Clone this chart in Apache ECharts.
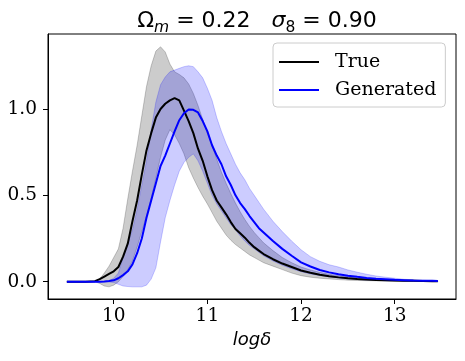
<!DOCTYPE html>
<html>
<head>
<meta charset="utf-8">
<script src="https://cdn.jsdelivr.net/npm/echarts@6/dist/echarts.min.js"></script>
<style>
html,body{margin:0;padding:0;background:#fff;}
#chart{width:465px;height:361px;}
</style>
</head>
<body>
<div id="chart"></div>
<script>
var xs = [9.5, 9.6, 9.7, 9.8, 9.85, 9.9, 9.95, 10.0, 10.05, 10.1, 10.15, 10.2, 10.25, 10.3, 10.35, 10.4, 10.45, 10.5, 10.55, 10.6, 10.65, 10.7, 10.75, 10.8, 10.85, 10.9, 10.95, 11.0, 11.05, 11.1, 11.15, 11.2, 11.25, 11.3, 11.35, 11.4, 11.45, 11.5, 11.55, 11.6, 11.7, 11.8, 11.9, 12.0, 12.1, 12.2, 12.3, 12.4, 12.5, 12.6, 12.7, 12.8, 12.9, 13.0, 13.1, 13.2, 13.3, 13.4, 13.46];

var trueMean = [0, 0, 0, 0.003, 0.015, 0.03, 0.045, 0.06, 0.085, 0.145, 0.22, 0.35, 0.47, 0.62, 0.76, 0.86, 0.95, 1.0, 1.03, 1.05, 1.063, 1.05, 0.99, 0.93, 0.86, 0.77, 0.70, 0.61, 0.53, 0.47, 0.43, 0.39, 0.345, 0.305, 0.28, 0.255, 0.225, 0.2, 0.18, 0.16, 0.13, 0.105, 0.085, 0.065, 0.052, 0.04, 0.032, 0.025, 0.02, 0.016, 0.013, 0.01, 0.008, 0.007, 0.006, 0.005, 0.004, 0.003, 0.003];
var trueLow = [0, 0, 0, 0, -0.01, -0.025, -0.03, -0.02, 0.0, 0.03, 0.07, 0.12, 0.2, 0.29, 0.38, 0.48, 0.6, 0.72, 0.82, 0.88, 0.85, 0.8, 0.74, 0.66, 0.6, 0.545, 0.495, 0.45, 0.40, 0.35, 0.31, 0.27, 0.24, 0.215, 0.195, 0.175, 0.155, 0.14, 0.125, 0.11, 0.09, 0.07, 0.05, 0.035, 0.026, 0.02, 0.016, 0.012, 0.009, 0.007, 0.006, 0.005, 0.004, 0.003, 0.003, 0.002, 0.002, 0.002, 0.002];
var trueHigh = [0, 0, 0, 0.003, 0.015, 0.05, 0.09, 0.14, 0.19, 0.31, 0.48, 0.64, 0.79, 0.96, 1.13, 1.25, 1.335, 1.36, 1.33, 1.26, 1.215, 1.2, 1.18, 1.145, 1.09, 1.02, 0.94, 0.86, 0.79, 0.71, 0.635, 0.57, 0.51, 0.455, 0.405, 0.36, 0.32, 0.285, 0.255, 0.225, 0.18, 0.14, 0.11, 0.085, 0.068, 0.054, 0.043, 0.035, 0.028, 0.022, 0.018, 0.014, 0.011, 0.009, 0.007, 0.006, 0.005, 0.004, 0.004];

var genMean = [0, 0, 0, 0, 0, 0.001, 0.004, 0.008, 0.02, 0.038, 0.06, 0.10, 0.165, 0.25, 0.37, 0.47, 0.57, 0.67, 0.73, 0.80, 0.87, 0.935, 0.975, 0.997, 0.995, 0.98, 0.93, 0.87, 0.79, 0.73, 0.68, 0.61, 0.56, 0.50, 0.455, 0.42, 0.38, 0.345, 0.31, 0.285, 0.235, 0.19, 0.15, 0.112, 0.088, 0.068, 0.054, 0.043, 0.035, 0.028, 0.022, 0.017, 0.014, 0.011, 0.009, 0.007, 0.006, 0.005, 0.004];
var genLow = [0, 0, 0, 0, 0, 0, -0.002, -0.005, -0.015, -0.025, -0.028, -0.03, -0.03, -0.03, -0.02, 0.015, 0.08, 0.23, 0.37, 0.47, 0.56, 0.64, 0.69, 0.72, 0.74, 0.70, 0.64, 0.57, 0.50, 0.45, 0.41, 0.37, 0.33, 0.30, 0.265, 0.235, 0.21, 0.19, 0.17, 0.15, 0.12, 0.095, 0.075, 0.058, 0.045, 0.036, 0.028, 0.022, 0.017, 0.013, 0.01, 0.008, 0.006, 0.005, 0.004, 0.003, 0.003, 0.002, 0.002];
var genHigh = [0, 0, 0, 0, 0, 0, 0.005, 0.02, 0.05, 0.14, 0.22, 0.30, 0.42, 0.56, 0.70, 0.88, 1.04, 1.14, 1.185, 1.215, 1.225, 1.235, 1.245, 1.25, 1.245, 1.215, 1.18, 1.12, 1.05, 0.95, 0.87, 0.80, 0.74, 0.68, 0.63, 0.59, 0.54, 0.50, 0.46, 0.42, 0.35, 0.29, 0.235, 0.185, 0.145, 0.118, 0.098, 0.085, 0.068, 0.055, 0.043, 0.033, 0.026, 0.02, 0.014, 0.011, 0.008, 0.006, 0.005];

var xTicks = [10, 11, 12, 13];
var yTicks = [0, 0.5, 1.0];
var seriesNames = ['True', 'Generated'];

function pairs(ys) { return xs.map(function (x, i) { return [x, ys[i]]; }); }

function band(name, low, high, fill) {
  return {
    type: 'custom',
    name: name,
    silent: true,
    z: 1,
    data: xs.map(function (x, i) { return [x, low[i], high[i]]; }),
    encode: { x: 0, y: [1, 2] },
    renderItem: function (params, api) {
      if (params.dataIndex !== 0) return null;
      var pts = [];
      for (var i = 0; i < xs.length; i++) pts.push(api.coord([xs[i], high[i]]));
      for (var j = xs.length - 1; j >= 0; j--) pts.push(api.coord([xs[j], low[j]]));
      return { type: 'polygon', shape: { points: pts }, style: { fill: fill, stroke: fill, lineWidth: 1 } };
    }
  };
}

var chart = echarts.init(document.getElementById('chart'), null, { renderer: 'canvas' });
chart.setOption({
  backgroundColor: '#ffffff',
  animation: false,
  title: {
    text: '{a|Ω}{s|m}{a| = 0.22   }{i|σ}{d|8}{a| = 0.90}',
    left: 252,
    textAlign: 'center',
    top: 2,
    textStyle: {
      fontWeight: 'normal',
      rich: {
        a: { fontFamily: 'DejaVu Sans', fontSize: 22, fontWeight: 'normal', color: '#000', lineHeight: 29 },
        i: { fontFamily: 'DejaVu Sans', fontSize: 22, fontWeight: 'normal', fontStyle: 'italic', color: '#000', lineHeight: 29 },
        s: { fontFamily: 'DejaVu Sans', fontSize: 15.5, fontWeight: 'normal', fontStyle: 'italic', color: '#000', lineHeight: 18, verticalAlign: 'bottom' },
        d: { fontFamily: 'DejaVu Sans', fontSize: 15.5, fontWeight: 'normal', color: '#000', lineHeight: 18, verticalAlign: 'bottom' }
      }
    }
  },
  legend: {
    data: seriesNames,
    orient: 'vertical',
    left: 273,
    top: 43,
    icon: 'rect',
    itemWidth: 40,
    itemHeight: 2,
    itemGap: 8,
    padding: [9, 9, 7, 6],
    backgroundColor: '#ffffff',
    borderColor: '#cccccc',
    borderWidth: 1,
    borderRadius: 4,
    textStyle: { fontFamily: 'DejaVu Serif', fontSize: 19, color: '#000', lineHeight: 20, padding: [0, 0, 0, 11] }
  },
  grid: { left: 48, right: 9, top: 34, bottom: 62, show: true, borderColor: '#000', borderWidth: 1, backgroundColor: 'transparent' },
  xAxis: {
    type: 'value',
    min: 9.2986,
    max: 13.654,
    splitLine: { show: false },
    axisLine: { onZero: false, lineStyle: { color: '#000', width: 1 } },
    axisTick: { customValues: xTicks, length: 5, lineStyle: { color: '#000' } },
    axisLabel: { customValues: xTicks, fontFamily: 'DejaVu Serif', fontSize: 18.5, color: '#000', margin: 8 },
    name: 'logδ',
    nameLocation: 'middle',
    nameGap: 25,
    nameTextStyle: { fontFamily: 'DejaVu Sans', fontStyle: 'italic', fontSize: 18, color: '#000' }
  },
  yAxis: {
    type: 'value',
    min: -0.1002,
    max: 1.434,
    splitLine: { show: false },
    axisLine: { onZero: false, lineStyle: { color: '#000', width: 1 } },
    axisTick: { customValues: yTicks, length: 5, lineStyle: { color: '#000' } },
    axisLabel: { customValues: yTicks, fontFamily: 'DejaVu Serif', fontSize: 18.5, color: '#000', margin: 11,
      formatter: function (v) { return v.toFixed(1); } }
  },
  series: [
    band('trueBand', trueLow, trueHigh, 'rgba(0,0,0,0.2)'),
    band('genBand', genLow, genHigh, 'rgba(0,0,255,0.2)'),
    { type: 'line', name: seriesNames[0], data: pairs(trueMean), symbol: 'none', z: 3,
      lineStyle: { color: '#000000', width: 2 }, itemStyle: { color: '#000000' } },
    { type: 'line', name: seriesNames[1], data: pairs(genMean), symbol: 'none', z: 4,
      lineStyle: { color: '#0000ff', width: 2 }, itemStyle: { color: '#0000ff' } }
  ]
});
</script>
</body>
</html>
